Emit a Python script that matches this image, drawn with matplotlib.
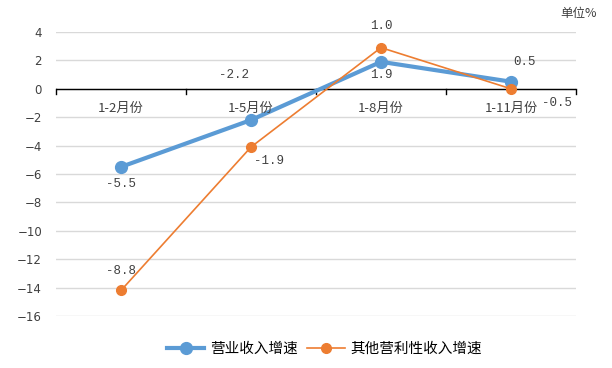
import matplotlib; matplotlib.use("Agg")
import matplotlib.pyplot as plt

plt.rcParams['font.family'] = ['Noto Sans CJK SC', 'DejaVu Sans']
plt.rcParams['axes.unicode_minus'] = False

cats = ["1-2月份", "1-5月份", "1-8月份", "1-11月份"]
rev = [-5.5, -2.2, 1.9, 0.5]
other = [-14.2, -4.1, 2.9, 0.0]
rev_lbl = ["-5.5", "-2.2", "1.9", "0.5"]
other_lbl = ["-8.8", "-1.9", "1.0", "-0.5"]
yticks = list(range(4, -18, -2))

blue = "#5B9BD5"; orange = "#ED7D31"; txt = "#404040"
fig = plt.figure(figsize=(6.12, 3.68), dpi=100)
ax = fig.add_axes([56/612, 1-316/368, 520/612, 284/368])
x = list(range(len(cats)))
ax.plot(x, rev, '-o', color=blue, lw=3, ms=8.5, label="营业收入增速", zorder=3)
ax.plot(x, other, '-o', color=orange, lw=1.2, ms=7, label="其他营利性收入增速", zorder=4)

ax.set_xlim(-0.5, 3.5); ax.set_ylim(-16, 4)
ax.set_yticks(yticks)
ax.set_yticklabels([str(t).replace("-", "−") for t in yticks], fontsize=8.5, color=txt,
                   family=['DejaVu Sans'])
ax.grid(axis='y', color="#d9d9d9", lw=1)
for s in ax.spines.values(): s.set_visible(False)
ax.tick_params(axis='y', length=0, pad=10)
ax.set_xticks([])
ax.axhline(0, color="black", lw=1, zorder=2)
for b in [-0.5, 0.5, 1.5, 2.5, 3.5]:
    ax.plot([b, b], [0, -0.35], color="black", lw=1, clip_on=False, zorder=2)
for i, c in enumerate(cats):
    ax.text(i, -1.35, c, ha="center", va="center", fontsize=9.5, color=txt)

# data labels (positions as shown in the reference)
lbl_kw = dict(ha="center", va="center", fontsize=9, color=txt, family=['Liberation Mono'])
ax.text(0, -6.7, rev_lbl[0], **lbl_kw)
ax.text(0.87, 0.95, rev_lbl[1], **lbl_kw)
ax.text(2.0, 1.0, rev_lbl[2], **lbl_kw)
ax.text(3.1, 1.9, rev_lbl[3], **lbl_kw)
ax.text(0, -12.8, other_lbl[0], **lbl_kw)
ax.text(1.14, -5.1, other_lbl[1], **lbl_kw)
ax.text(2.0, 4.4, other_lbl[2], **lbl_kw)
ax.text(3.35, -1.0, other_lbl[3], **lbl_kw)

fig.text(579/612, 1-14/368, "单位%", ha="center", va="center", fontsize=9, color=txt)
fig.legend(loc="center", bbox_to_anchor=(0.53, 1-349/368), ncol=2, frameon=False,
           fontsize=10.5, handlelength=2.6, columnspacing=0.6, handletextpad=0.4)
fig.savefig("out.png", dpi=100)
